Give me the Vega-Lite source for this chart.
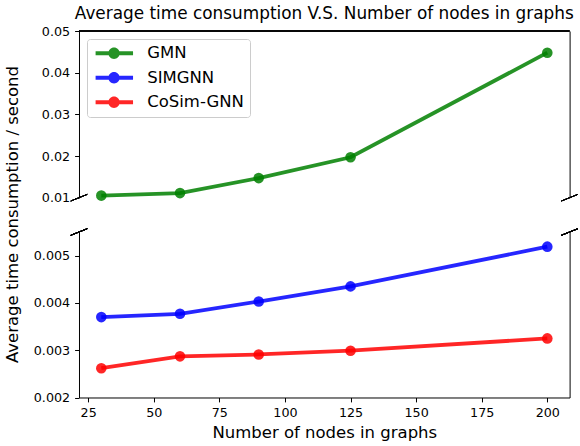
{
  "$schema": "https://vega.github.io/schema/vega-lite/v6.json",
  "padding": {"left": 5, "top": 5, "right": 5, "bottom": 5},
  "background": "white",
  "config": {
    "font": "DejaVu Sans",
    "view": {"stroke": null},
    "axis": {
      "labelFont": "DejaVu Sans", "titleFont": "DejaVu Sans",
      "labelFontSize": 12.7, "titleFontSize": 16.5, "titleFontWeight": "normal",
      "labelColor": "#000", "titleColor": "#000", "domainColor": "#000", "tickColor": "#000",
      "tickSize": 4.4, "labelPadding": 5, "grid": false, "domainWidth": 1, "tickWidth": 1
    }
  },
  "datasets": {
    "t": [
      {"nodes": 30, "model": "GMN", "time": 0.0105},
      {"nodes": 60, "model": "GMN", "time": 0.0111},
      {"nodes": 90, "model": "GMN", "time": 0.0147},
      {"nodes": 125, "model": "GMN", "time": 0.0197},
      {"nodes": 200, "model": "GMN", "time": 0.0448},
      {"nodes": 30, "model": "SIMGNN", "time": 0.00370},
      {"nodes": 60, "model": "SIMGNN", "time": 0.00377},
      {"nodes": 90, "model": "SIMGNN", "time": 0.00403},
      {"nodes": 125, "model": "SIMGNN", "time": 0.00435},
      {"nodes": 200, "model": "SIMGNN", "time": 0.00519},
      {"nodes": 30, "model": "CoSim-GNN", "time": 0.00262},
      {"nodes": 60, "model": "CoSim-GNN", "time": 0.00287},
      {"nodes": 90, "model": "CoSim-GNN", "time": 0.00291},
      {"nodes": 125, "model": "CoSim-GNN", "time": 0.00299},
      {"nodes": 200, "model": "CoSim-GNN", "time": 0.00325}
    ]
  },
  "data": {"name": "t"},
  "bounds": "flush",
  "spacing": 34,
  "resolve": {"scale": {"x": "independent", "y": "independent", "color": "independent"}},
  "vconcat": [
    {
      "width": 490.6,
      "height": 166.7,
      "title": {
        "text": "Average time consumption V.S. Number of nodes in graphs",
        "fontSize": 16.9, "fontWeight": "normal", "font": "DejaVu Sans", "color": "#000",
        "anchor": "middle", "frame": "group", "offset": 2
      },
      "transform": [{"filter": "datum.model === 'GMN'"}],
      "resolve": {"axis": {"y": "independent"}},
      "layer": [
        {
          "mark": {"type": "point", "filled": true, "size": 112, "opacity": 0.85},
          "encoding": {
            "x": {"field": "nodes", "type": "quantitative",
                  "scale": {"domain": [21.5, 208.5], "nice": false, "zero": false},
                  "axis": null},
            "y": {"field": "time", "type": "quantitative",
                  "scale": {"domain": [0.01, 0.05], "nice": false, "zero": false},
                  "axis": {"orient": "left", "values": [0.01, 0.02, 0.03, 0.04, 0.05], "format": ".2f",
                           "title": "Average time consumption / second",
                           "titleAngle": -90, "titleAlign": "center", "titleBaseline": "alphabetic",
                           "titleX": -61, "titleY": 183}},
            "color": {"field": "model", "type": "nominal",
                      "scale": {"domain": ["GMN", "SIMGNN", "CoSim-GNN"], "range": ["#008000", "#0000ff", "#ff0000"]},
                      "legend": {
                        "orient": "top-left", "offset": 8, "title": null,
                        "labelFontSize": 16.5, "labelColor": "#000", "labelFont": "DejaVu Sans",
                        "symbolType": "M-1,-0.35 L5.62,-0.35 L5.62,0.35 L-1,0.35 Z M1.26,0 A1,1 0 1,1 3.26,0 A1,1 0 1,1 1.26,0 Z",
                        "symbolSize": 128, "symbolStrokeWidth": 0, "symbolOpacity": 0.85,
                        "labelOffset": 37.7, "rowPadding": 7.5, "padding": 6,
                        "strokeColor": "#cccccc", "fillColor": "rgba(255,255,255,0.8)", "cornerRadius": 3
                      }}
          }
        },
        {
          "mark": {"type": "line", "strokeWidth": 3.8, "opacity": 0.85},
          "encoding": {
            "x": {"field": "nodes", "type": "quantitative"},
            "y": {"field": "time", "type": "quantitative", "axis": null},
            "color": {"field": "model", "type": "nominal",
                      "legend": {
                        "orient": "top-left", "offset": 8, "title": null,
                        "labelFontSize": 16.5, "labelColor": "#000", "labelFont": "DejaVu Sans",
                        "symbolType": "M-1,-0.35 L5.62,-0.35 L5.62,0.35 L-1,0.35 Z M1.26,0 A1,1 0 1,1 3.26,0 A1,1 0 1,1 1.26,0 Z",
                        "symbolSize": 128, "symbolStrokeWidth": 0, "symbolOpacity": 0.85,
                        "labelOffset": 37.7, "rowPadding": 7.5, "padding": 6,
                        "strokeColor": "#cccccc", "fillColor": "rgba(255,255,255,0.8)", "cornerRadius": 3
                      }}
          }
        },
        {
          "mark": {"type": "rule", "color": "#000", "strokeWidth": 1},
          "encoding": {
            "x": {"datum": 21.5, "type": "quantitative"},
            "x2": {"datum": 208.5},
            "y": {"datum": 0.05, "type": "quantitative", "axis": null}
          }
        },
        {
          "mark": {"type": "rule", "color": "#000", "strokeWidth": 1},
          "encoding": {
            "x": {"datum": 18.34, "type": "quantitative"},
            "x2": {"datum": 24.66},
            "y": {"datum": 0.0092, "type": "quantitative", "axis": null},
            "y2": {"datum": 0.0108}
          }
        },
        {
          "mark": {"type": "rule", "color": "#000", "strokeWidth": 1},
          "encoding": {
            "x": {"datum": 205.34, "type": "quantitative"},
            "x2": {"datum": 211.66},
            "y": {"datum": 0.0092, "type": "quantitative",
                  "axis": {"orient": "right", "labels": false, "ticks": false, "title": null, "domain": true}},
            "y2": {"datum": 0.0108}
          }
        }
      ]
    },
    {
      "width": 490.6,
      "height": 165.5,
      "transform": [{"filter": "datum.model !== 'GMN'"}],
      "resolve": {"axis": {"y": "independent"}},
      "layer": [
        {
          "mark": {"type": "point", "filled": true, "size": 112, "opacity": 0.85},
          "encoding": {
            "x": {"field": "nodes", "type": "quantitative",
                  "scale": {"domain": [21.5, 208.5], "nice": false, "zero": false},
                  "axis": {"orient": "bottom", "values": [25, 50, 75, 100, 125, 150, 175, 200],
                           "title": "Number of nodes in graphs", "titlePadding": 5}},
            "y": {"field": "time", "type": "quantitative",
                  "scale": {"domain": [0.002, 0.0055], "nice": false, "zero": false},
                  "axis": {"orient": "left", "values": [0.002, 0.003, 0.004, 0.005], "format": ".3f", "title": null}},
            "color": {"field": "model", "type": "nominal",
                      "scale": {"domain": ["GMN", "SIMGNN", "CoSim-GNN"], "range": ["#008000", "#0000ff", "#ff0000"]},
                      "legend": null}
          }
        },
        {
          "mark": {"type": "line", "strokeWidth": 3.8, "opacity": 0.85},
          "encoding": {
            "x": {"field": "nodes", "type": "quantitative"},
            "y": {"field": "time", "type": "quantitative", "axis": null},
            "color": {"field": "model", "type": "nominal", "legend": null}
          }
        },
        {
          "mark": {"type": "rule", "color": "#000", "strokeWidth": 1},
          "encoding": {
            "x": {"datum": 18.34, "type": "quantitative"},
            "x2": {"datum": 24.66},
            "y": {"datum": 0.00543, "type": "quantitative", "axis": null},
            "y2": {"datum": 0.00557}
          }
        },
        {
          "mark": {"type": "rule", "color": "#000", "strokeWidth": 1},
          "encoding": {
            "x": {"datum": 205.34, "type": "quantitative"},
            "x2": {"datum": 211.66},
            "y": {"datum": 0.00543, "type": "quantitative",
                  "axis": {"orient": "right", "labels": false, "ticks": false, "title": null, "domain": true}},
            "y2": {"datum": 0.00557}
          }
        }
      ]
    }
  ]
}
